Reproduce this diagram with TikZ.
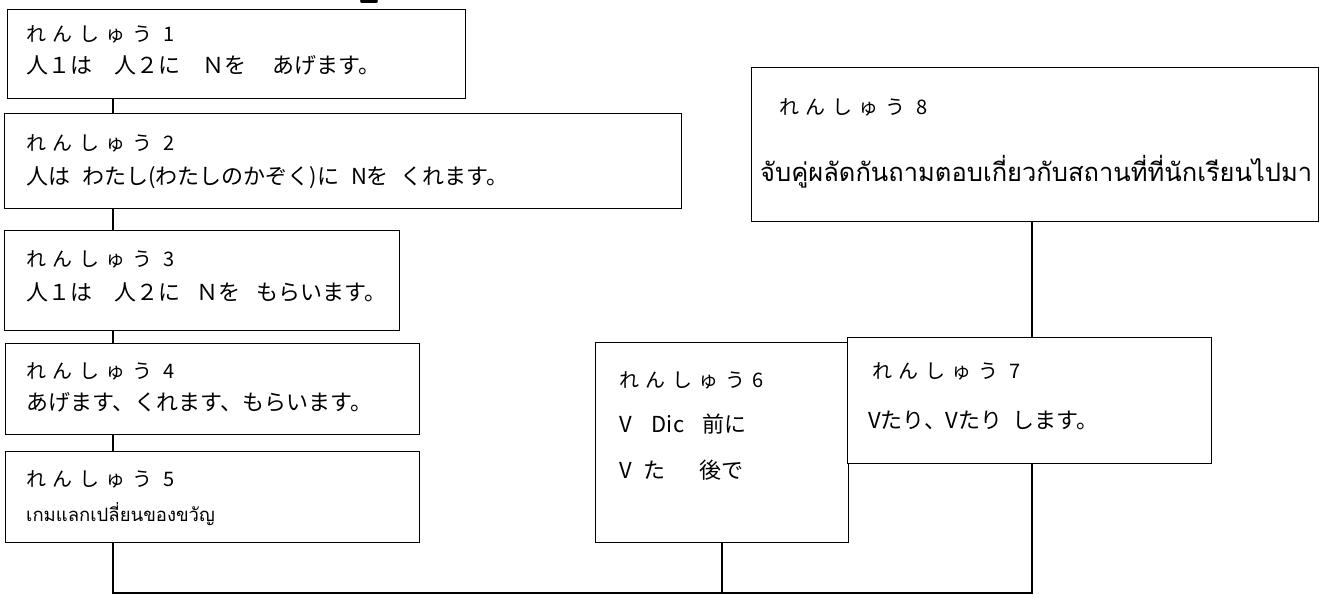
\documentclass[tikz,border=0pt]{standalone}
\usepackage{fontspec}
\newfontfamily\jpfont{Noto Sans CJK JP}
\newfontfamily\jpwide[LetterSpace=33]{Noto Sans CJK JP}
\newfontfamily\thaifont[Script=Thai]{Loma}
\tikzset{
  box/.style={draw, line width=1.1pt, anchor=north west, inner sep=0pt, fill=white},
  conn/.style={line width=1.6pt},
  lbl/.style={anchor=base west, inner sep=0pt, font=\jpwide\fontsize{20}{20}\selectfont},
  txt/.style={anchor=base west, inner sep=0pt, font=\jpfont\fontsize{22}{22}\selectfont},
}
\begin{document}
\begin{tikzpicture}[x=1pt,y=-1pt]
\useasboundingbox (0,0) rectangle (1322,597);
% partially visible numeral at top
\node[anchor=base, inner sep=0pt, font=\sffamily\bfseries\fontsize{40}{40}\selectfont] (top2) at (369,4) {2};
% coordinates for connector columns
\coordinate (lx) at (113,0);
\coordinate (mx) at (722,0);
\coordinate (rx) at (1032,0);
\coordinate (by) at (0,593);
% boxes
\node[box, minimum width=458pt, minimum height=89pt] (b1) at (7,9) {};
\node[box, minimum width=677pt, minimum height=95pt] (b2) at (4,113) {};
\node[box, minimum width=395pt, minimum height=100pt] (b3) at (4,230) {};
\node[box, minimum width=414pt, minimum height=91pt] (b4) at (5,343) {};
\node[box, minimum width=414pt, minimum height=91pt] (b5) at (5,451) {};
\node[box, minimum width=253pt, minimum height=200pt] (b6) at (595,342) {};
\node[box, minimum width=364pt, minimum height=126pt] (b7) at (847,337) {};
\node[box, minimum width=567pt, minimum height=154pt] (b8) at (751,67) {};
% connectors
\draw[conn] (b1.south -| lx) -- (b2.north -| lx);
\draw[conn] (b2.south -| lx) -- (b3.north -| lx);
\draw[conn] (b3.south -| lx) -- (b4.north -| lx);
\draw[conn] (b4.south -| lx) -- (b5.north -| lx);
\draw[conn] (b5.south -| lx) -- (lx |- by) -- (rx |- by) -- (b7.south -| rx);
\draw[conn] (b6.south -| mx) -- (mx |- by);
\draw[conn] (b8.south -| rx) -- (b7.north -| rx);
% texts
\node[lbl] (t1a) at (26,41) {れんしゅう 1};
\node[txt] (t1b) at (26,73) {人１は　人２に　Ｎを\hspace{26pt}あげます。};
\node[lbl] (t2a) at (26,150) {れんしゅう 2};
\node[txt] (t2b) at (26,184) {人は\hspace{12pt}わたし(わたしのかぞく)に\hspace{12pt}Nを\hspace{12pt}くれます。};
\node[lbl] (t3a) at (26,266) {れんしゅう 3};
\node[txt] (t3b) at (26,300) {人１は　人２に\hspace{16pt}Ｎを\hspace{16pt}もらいます。};
\node[lbl] (t4a) at (26,378) {れんしゅう 4};
\node[txt] (t4b) at (26,410) {あげます、くれます、もらいます。};
\node[lbl] (t5a) at (26,486) {れんしゅう 5};
\node[anchor=base west, inner sep=0pt, font=\thaifont\fontsize{18.5}{18.5}\selectfont] (t5b) at (26,521) {เกมแลกเปลี่ยนของขวัญ};
\node[lbl] (t6a) at (619,387) {れんしゅう6};
\node[txt] (t6b) at (619,432) {V\hspace{20pt}Dic\hspace{18pt}前に};
\node[txt] (t6c) at (619,478) {V\hspace{12pt}た\hspace{34pt}後で};
\node[lbl] (t7a) at (872,378) {れんしゅう 7};
\node[txt] (t7b) at (868,428) {Vたり、Vたり\hspace{10pt}します。};
\node[lbl] (t8a) at (779,114) {れんしゅう 8};
\node[anchor=base west, inner sep=0pt, font=\thaifont\fontsize{25.5}{25.5}\selectfont] (t8b) at (760,181) {จับคู่ผลัดกันถามตอบเกี่ยวกับสถานที่ที่นักเรียนไปมา};
\end{tikzpicture}
\end{document}
